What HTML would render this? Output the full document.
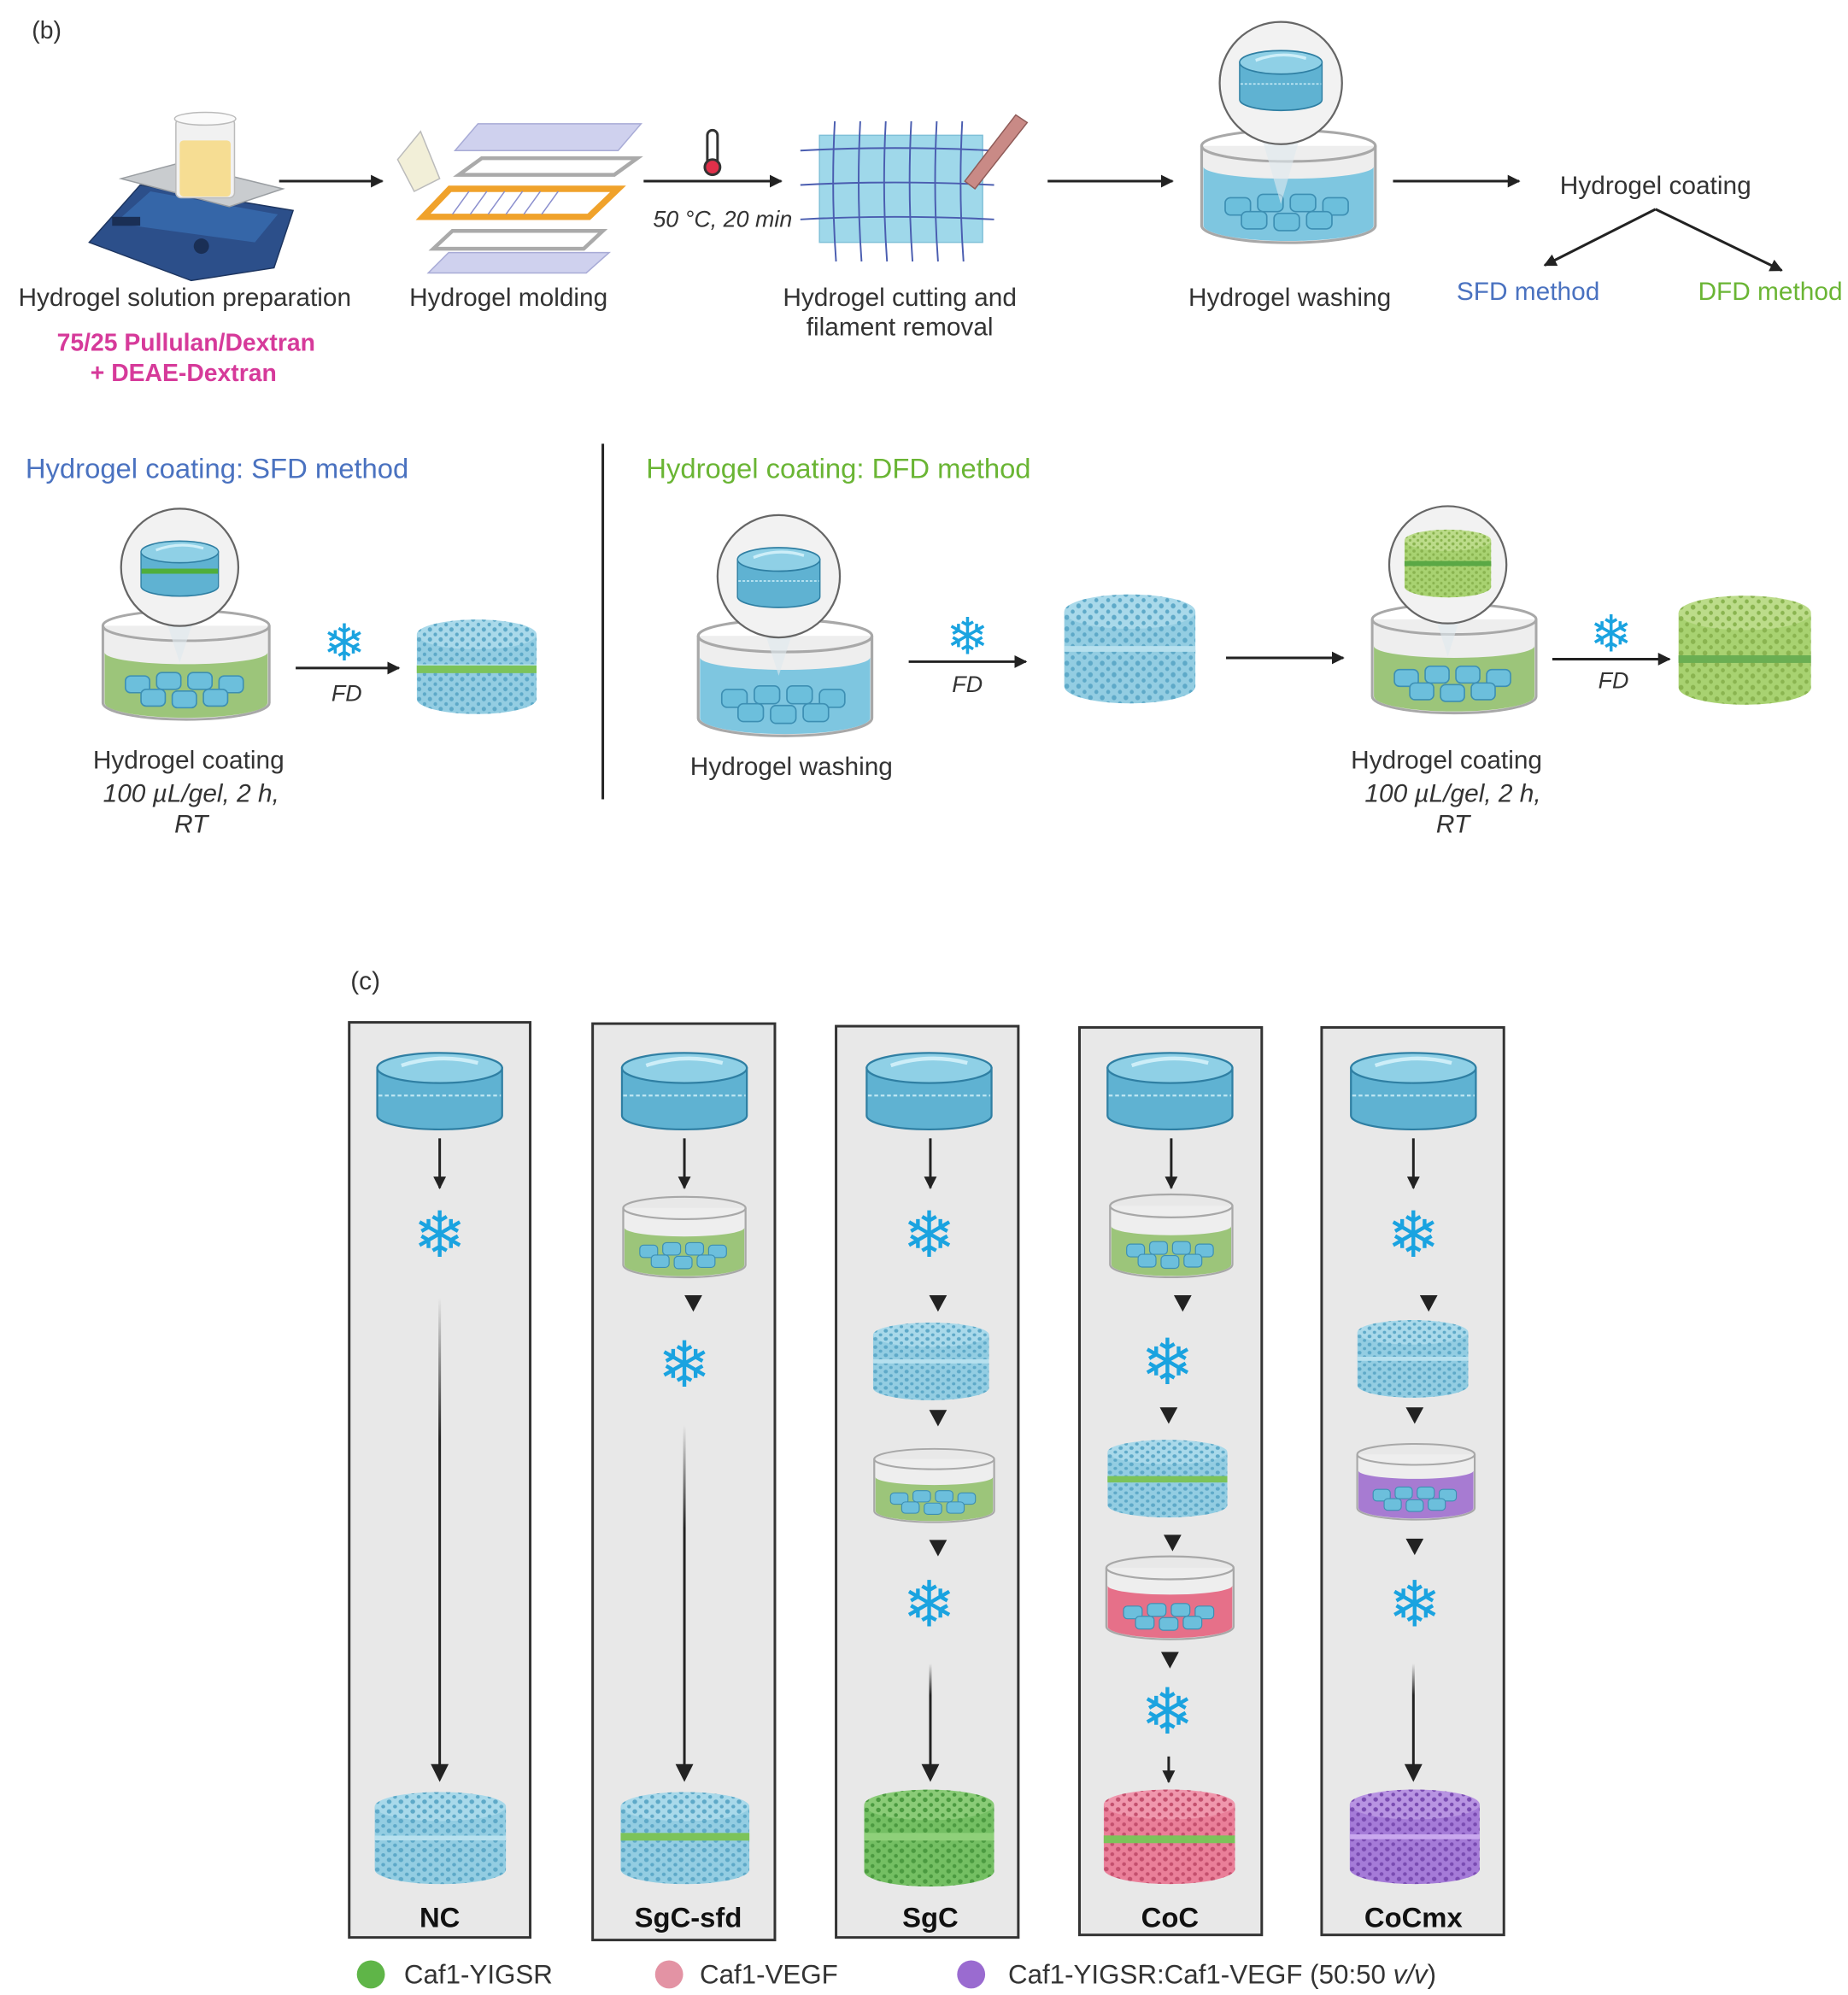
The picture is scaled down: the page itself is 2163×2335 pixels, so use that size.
<!DOCTYPE html>
<html><head><meta charset="utf-8"><style>
html,body{margin:0;padding:0;background:#fff;}
svg{display:block;}
text{font-family:"Liberation Sans","DejaVu Sans",sans-serif;}
.sf{font-family:"DejaVu Sans",sans-serif;fill:#1aa3e0;text-anchor:middle;}
</style></head><body>
<svg width="2163" height="2335" viewBox="0 0 1450 1565" xmlns="http://www.w3.org/2000/svg">
<defs>
<marker id="ah" markerWidth="10" markerHeight="10" refX="9" refY="5" orient="auto" markerUnits="userSpaceOnUse"><path d="M0,0 L10,5 L0,10 Z" fill="#222"/></marker>
<linearGradient id="fade" x1="0" y1="0" x2="0" y2="1"><stop offset="0" stop-color="#222" stop-opacity="0"/><stop offset="0.3" stop-color="#222"/><stop offset="1" stop-color="#222"/></linearGradient>
<pattern id="pB" width="9" height="8" patternUnits="userSpaceOnUse"><circle cx="2" cy="2" r="1.8" fill="#5ea9c8"/><circle cx="6.5" cy="6" r="1.5" fill="#5ea9c8"/></pattern>
<pattern id="pG" width="9" height="8" patternUnits="userSpaceOnUse"><circle cx="2" cy="2" r="1.8" fill="#4b9a40"/><circle cx="6.5" cy="6" r="1.5" fill="#4b9a40"/></pattern>
<pattern id="pL" width="9" height="8" patternUnits="userSpaceOnUse"><circle cx="2" cy="2" r="1.8" fill="#8ab450"/><circle cx="6.5" cy="6" r="1.5" fill="#8ab450"/></pattern>
<pattern id="pP" width="9" height="8" patternUnits="userSpaceOnUse"><circle cx="2" cy="2" r="1.8" fill="#c4506e"/><circle cx="6.5" cy="6" r="1.5" fill="#c4506e"/></pattern>
<pattern id="pV" width="9" height="8" patternUnits="userSpaceOnUse"><circle cx="2" cy="2" r="1.8" fill="#7a4cb2"/><circle cx="6.5" cy="6" r="1.5" fill="#7a4cb2"/></pattern>
<symbol id="gel" viewBox="0 0 100 65" preserveAspectRatio="none">
<path d="M1,14 L1,52 A49,11 0 0 0 99,52 L99,14 Z" fill="#5fb2d2" stroke="#2f7fa3" stroke-width="1.5"/>
<ellipse cx="50" cy="14" rx="49" ry="12" fill="#8fd0e6" stroke="#2f7fa3" stroke-width="1.5"/>
<path d="M20,12 Q50,2 80,10" stroke="#cdeef8" stroke-width="3" fill="none"/>
<line x1="2" y1="36" x2="98" y2="36" stroke="#bfe6f3" stroke-width="1.5" stroke-dasharray="3,2"/>
</symbol>
<symbol id="scB" viewBox="0 0 100 80" preserveAspectRatio="none"><path d="M0,14 L0,66 A50,12 0 0 0 100,66 L100,14 Z" fill="#93cde2"/><path d="M0,14 L0,66 A50,12 0 0 0 100,66 L100,14 Z" fill="url(#pB)"/><ellipse cx="50" cy="14" rx="50" ry="12" fill="#a9d9ea"/><ellipse cx="50" cy="14" rx="50" ry="12" fill="url(#pB)"/><rect x="0" y="38" width="100" height="4" fill="#b6e0ee"/></symbol>
<symbol id="scG" viewBox="0 0 100 80" preserveAspectRatio="none"><path d="M0,14 L0,66 A50,12 0 0 0 100,66 L100,14 Z" fill="#74bf63"/><path d="M0,14 L0,66 A50,12 0 0 0 100,66 L100,14 Z" fill="url(#pG)"/><ellipse cx="50" cy="14" rx="50" ry="12" fill="#8acb77"/><ellipse cx="50" cy="14" rx="50" ry="12" fill="url(#pG)"/></symbol>
<symbol id="scL" viewBox="0 0 100 80" preserveAspectRatio="none"><path d="M0,14 L0,66 A50,12 0 0 0 100,66 L100,14 Z" fill="#a8d271"/><path d="M0,14 L0,66 A50,12 0 0 0 100,66 L100,14 Z" fill="url(#pL)"/><ellipse cx="50" cy="14" rx="50" ry="12" fill="#bcdc8a"/><ellipse cx="50" cy="14" rx="50" ry="12" fill="url(#pL)"/></symbol>
<symbol id="scP" viewBox="0 0 100 80" preserveAspectRatio="none"><path d="M0,14 L0,66 A50,12 0 0 0 100,66 L100,14 Z" fill="#ea7f99"/><path d="M0,14 L0,66 A50,12 0 0 0 100,66 L100,14 Z" fill="url(#pP)"/><ellipse cx="50" cy="14" rx="50" ry="12" fill="#f097ad"/><ellipse cx="50" cy="14" rx="50" ry="12" fill="url(#pP)"/></symbol>
<symbol id="scV" viewBox="0 0 100 80" preserveAspectRatio="none"><path d="M0,14 L0,66 A50,12 0 0 0 100,66 L100,14 Z" fill="#a57bd8"/><path d="M0,14 L0,66 A50,12 0 0 0 100,66 L100,14 Z" fill="url(#pV)"/><ellipse cx="50" cy="14" rx="50" ry="12" fill="#b894e2"/><ellipse cx="50" cy="14" rx="50" ry="12" fill="url(#pV)"/><rect x="0" y="38" width="100" height="4" fill="#c9a8ee"/></symbol>
<g id="minigels">
<g fill="#6cbfdc" stroke="#3d8fb3" stroke-width="0.8">
<rect x="15" y="42" width="14" height="10" rx="3"/><rect x="33" y="40" width="14" height="10" rx="3"/><rect x="51" y="40" width="14" height="10" rx="3"/><rect x="69" y="42" width="14" height="10" rx="3"/>
<rect x="24" y="50" width="14" height="10" rx="3"/><rect x="42" y="51" width="14" height="10" rx="3"/><rect x="60" y="50" width="14" height="10" rx="3"/>
</g></g>
<symbol id="dishG" viewBox="0 0 100 70" preserveAspectRatio="none"><path d="M2,12 L2,58 A48,10 0 0 0 98,58 L98,12" fill="#eeeeee" stroke="#a8a8a8" stroke-width="1.5"/><path d="M3,28 L3,58 A47,9 0 0 0 97,58 L97,28 A47,7 0 0 1 3,28Z" fill="#9cc57a"/><use href="#minigels"/><ellipse cx="50" cy="12" rx="48" ry="9" fill="none" stroke="#a8a8a8" stroke-width="1.5"/></symbol>
<symbol id="dishB" viewBox="0 0 100 70" preserveAspectRatio="none"><path d="M2,12 L2,58 A48,10 0 0 0 98,58 L98,12" fill="#eeeeee" stroke="#a8a8a8" stroke-width="1.5"/><path d="M3,24 L3,58 A47,9 0 0 0 97,58 L97,24 A47,7 0 0 1 3,24Z" fill="#7ec6e0"/><use href="#minigels"/><ellipse cx="50" cy="12" rx="48" ry="9" fill="none" stroke="#a8a8a8" stroke-width="1.5"/></symbol>
<symbol id="dishP" viewBox="0 0 100 70" preserveAspectRatio="none"><path d="M2,12 L2,58 A48,10 0 0 0 98,58 L98,12" fill="#eeeeee" stroke="#a8a8a8" stroke-width="1.5"/><path d="M3,26 L3,58 A47,9 0 0 0 97,58 L97,26 A47,7 0 0 1 3,26Z" fill="#e67089"/><use href="#minigels"/><ellipse cx="50" cy="12" rx="48" ry="9" fill="none" stroke="#a8a8a8" stroke-width="1.5"/></symbol>
<symbol id="dishV" viewBox="0 0 100 70" preserveAspectRatio="none"><path d="M2,12 L2,58 A48,10 0 0 0 98,58 L98,12" fill="#eeeeee" stroke="#a8a8a8" stroke-width="1.5"/><path d="M3,26 L3,58 A47,9 0 0 0 97,58 L97,26 A47,7 0 0 1 3,26Z" fill="#a77bd2"/><use href="#minigels"/><ellipse cx="50" cy="12" rx="48" ry="9" fill="none" stroke="#a8a8a8" stroke-width="1.5"/></symbol>
<symbol id="tri" viewBox="0 0 14 14"><path d="M0,0 L14,0 L7,13Z" fill="#222"/></symbol>
</defs>

<!-- (b) top row -->
<text x="25" y="30" font-size="19" fill="#333">(b)</text>
<!-- hotplate -->
<g>
<path d="M70,190 L110,145 L230,165 L215,210 L150,220Z" fill="#2c4f8a" stroke="#1d3560"/>
<path d="M90,175 L118,150 L218,168 L200,190Z" fill="#3566a8"/>
<path d="M95,140 L140,128 L222,148 L180,162Z" fill="#c9cccf" stroke="#9a9ea2"/>
<rect x="138" y="93" width="46" height="62" rx="4" fill="#f1f1f1" stroke="#bbb"/>
<rect x="141" y="110" width="40" height="44" rx="3" fill="#f6dd93"/>
<ellipse cx="161" cy="93" rx="24" ry="5" fill="#fafafa" stroke="#bbb"/>
<rect x="88" y="170" width="22" height="7" fill="#1a2f55"/><circle cx="158" cy="193" r="6" fill="#1a2f55"/>
</g>
<line x1="219" y1="142" x2="300" y2="142" stroke="#222" stroke-width="2" marker-end="url(#ah)"/>
<!-- molding -->
<g>
<path d="M312,125 L330,103 L345,140 L325,150Z" fill="#f2efd8" stroke="#bbb"/>
<path d="M375,97 L503,97 L485,118 L357,118Z" fill="#cfd1ee" stroke="#a8abd6"/>
<path d="M378,124 L500,124 L482,137 L360,137Z" fill="none" stroke="#aaa" stroke-width="3"/>
<path d="M353,148 L485,148 L462,170 L332,170Z" fill="none" stroke="#f0a22b" stroke-width="5"/>
<g stroke="#8b8fce" stroke-width="1"><line x1="368" y1="150" x2="355" y2="168"/><line x1="382" y1="150" x2="369" y2="168"/><line x1="396" y1="150" x2="383" y2="168"/><line x1="410" y1="150" x2="397" y2="168"/><line x1="424" y1="150" x2="411" y2="168"/><line x1="438" y1="150" x2="425" y2="168"/></g>
<path d="M355,181 L473,181 L458,195 L340,195Z" fill="none" stroke="#aaa" stroke-width="3"/>
<path d="M352,198 L478,198 L460,214 L336,214Z" fill="#cfd1ee" stroke="#a8abd6"/>
</g>
<line x1="505" y1="142" x2="613" y2="142" stroke="#222" stroke-width="2" marker-end="url(#ah)"/>
<rect x="555" y="102" width="8" height="28" rx="4" fill="#fff" stroke="#333" stroke-width="2"/><circle cx="559" cy="131" r="6" fill="#e0304a" stroke="#333" stroke-width="2"/>
<text x="567" y="178" font-size="18" font-style="italic" text-anchor="middle" fill="#333">50 °C, 20 min</text>
<!-- cutting -->
<g>
<rect x="643" y="106" width="128" height="84" fill="#9fd8ea" stroke="#7fc0d8"/>
<g stroke="#4a5db0" stroke-width="1.3" fill="none">
<path d="M628,118 Q700,114 780,118"/><path d="M628,145 Q700,141 780,145"/><path d="M628,172 Q700,168 780,172"/>
<path d="M655,95 Q652,150 656,205"/><path d="M675,95 Q672,150 676,205"/><path d="M695,95 Q692,150 696,205"/><path d="M715,95 Q712,150 716,205"/><path d="M735,95 Q732,150 736,205"/><path d="M755,95 Q752,150 756,205"/>
</g>
<path d="M757,142 L797,90 L806,96 L765,148Z" fill="#c98a86" stroke="#8f5b58"/>
</g>
<line x1="822" y1="142" x2="920" y2="142" stroke="#222" stroke-width="2" marker-end="url(#ah)"/>
<!-- washing -->
<g>
<use href="#dishB" x="940" y="98" width="142" height="95"/>
<path d="M985,90 L1005,160 L1025,90Z" fill="#dfe9ef" opacity="0.6"/>
<circle cx="1005" cy="65" r="48" fill="#f2f2f2" stroke="#666" stroke-width="1.5"/>
<use href="#gel" x="972" y="38" width="66" height="50"/>
</g>
<line x1="1093" y1="142" x2="1192" y2="142" stroke="#222" stroke-width="2" marker-end="url(#ah)"/>
<text x="1299" y="152" font-size="20" text-anchor="middle" fill="#333">Hydrogel coating</text>
<line x1="1299" y1="164" x2="1212" y2="208" stroke="#222" stroke-width="2" marker-end="url(#ah)"/>
<line x1="1299" y1="164" x2="1398" y2="212" stroke="#222" stroke-width="2" marker-end="url(#ah)"/>
<text x="1199" y="235" font-size="20" text-anchor="middle" fill="#4a72c0">SFD method</text>
<text x="1389" y="235" font-size="20" text-anchor="middle" fill="#6ab534">DFD method</text>

<text x="145" y="240" font-size="20" text-anchor="middle" fill="#333">Hydrogel solution preparation</text>
<text x="146" y="275" font-size="19" font-weight="bold" text-anchor="middle" fill="#d63a9a">75/25 Pullulan/Dextran</text>
<text x="144" y="299" font-size="19" font-weight="bold" text-anchor="middle" fill="#d63a9a">+ DEAE-Dextran</text>
<text x="399" y="240" font-size="20" text-anchor="middle" fill="#333">Hydrogel molding</text>
<text x="706" y="240" font-size="20" text-anchor="middle" fill="#333">Hydrogel cutting and</text>
<text x="706" y="263" font-size="20" text-anchor="middle" fill="#333">filament removal</text>
<text x="1012" y="240" font-size="20" text-anchor="middle" fill="#333">Hydrogel washing</text>

<!-- middle -->
<text x="20" y="375" font-size="22" fill="#4a72c0">Hydrogel coating:  SFD method</text>
<line x1="473" y1="348" x2="473" y2="627" stroke="#222" stroke-width="2"/>
<text x="507" y="375" font-size="22" fill="#6ab534">Hydrogel coating:  DFD method</text>
<!-- SFD -->
<use href="#dishG" x="78" y="475" width="136" height="92"/>
<path d="M125,470 L141,520 L157,470Z" fill="#dfe9ef" opacity="0.6"/>
<circle cx="141" cy="445" r="46" fill="#f2f2f2" stroke="#666" stroke-width="1.5"/>
<use href="#gel" x="110" y="423" width="62" height="46"/>
<rect x="111" y="446" width="60" height="4" fill="#4fae3c"/>
<line x1="232" y1="524" x2="313" y2="524" stroke="#222" stroke-width="2" marker-end="url(#ah)"/>
<text class="sf" x="270" y="518" font-size="40">❄</text>
<text x="272" y="550" font-size="18" font-style="italic" text-anchor="middle" fill="#333">FD</text>
<use href="#scB" x="327" y="484" width="94" height="78"/>
<rect x="327" y="522" width="94" height="6" fill="#7cc35a"/>
<text x="148" y="603" font-size="20" text-anchor="middle" fill="#333">Hydrogel coating</text>
<text x="150" y="629" font-size="20" font-style="italic" text-anchor="middle" fill="#333">100 µL/gel, 2 h,</text>
<text x="150" y="653" font-size="20" font-style="italic" text-anchor="middle" fill="#333">RT</text>
<!-- DFD -->
<use href="#dishB" x="545" y="482" width="142" height="98"/>
<path d="M595,480 L611,530 L627,480Z" fill="#dfe9ef" opacity="0.6"/>
<circle cx="611" cy="452" r="48" fill="#f2f2f2" stroke="#666" stroke-width="1.5"/>
<use href="#gel" x="578" y="428" width="66" height="50"/>
<text x="621" y="608" font-size="20" text-anchor="middle" fill="#333">Hydrogel washing</text>
<line x1="713" y1="519" x2="805" y2="519" stroke="#222" stroke-width="2" marker-end="url(#ah)"/>
<text class="sf" x="759" y="513" font-size="40">❄</text>
<text x="759" y="543" font-size="18" font-style="italic" text-anchor="middle" fill="#333">FD</text>
<use href="#scB" x="835" y="464" width="103" height="90"/>
<line x1="962" y1="516" x2="1054" y2="516" stroke="#222" stroke-width="2" marker-end="url(#ah)"/>
<use href="#dishG" x="1074" y="470" width="134" height="92"/>
<path d="M1120,465 L1136,515 L1152,465Z" fill="#dfe9ef" opacity="0.6"/>
<circle cx="1136" cy="443" r="46" fill="#f2f2f2" stroke="#666" stroke-width="1.5"/>
<use href="#scL" x="1102" y="414" width="68" height="56"/>
<rect x="1102" y="440" width="68" height="4" fill="#5aa845"/>
<line x1="1218" y1="517" x2="1310" y2="517" stroke="#222" stroke-width="2" marker-end="url(#ah)"/>
<text class="sf" x="1264" y="511" font-size="40">❄</text>
<text x="1266" y="540" font-size="18" font-style="italic" text-anchor="middle" fill="#333">FD</text>
<use href="#scL" x="1317" y="465" width="104" height="90"/>
<rect x="1317" y="514" width="104" height="6" fill="#6aae52"/>
<text x="1135" y="603" font-size="20" text-anchor="middle" fill="#333">Hydrogel coating</text>
<text x="1140" y="629" font-size="20" font-style="italic" text-anchor="middle" fill="#333">100 µL/gel, 2 h,</text>
<text x="1140" y="653" font-size="20" font-style="italic" text-anchor="middle" fill="#333">RT</text>

<!-- (c) -->
<text x="275" y="776" font-size="20" fill="#333">(c)</text>
<g fill="#e8e8e8" stroke="#333" stroke-width="2">
<rect x="274" y="802" width="142" height="718"/>
<rect x="465" y="803" width="143" height="719"/>
<rect x="656" y="805" width="143" height="715"/>
<rect x="847" y="806" width="143" height="712"/>
<rect x="1037" y="806" width="143" height="712"/>
</g>
<!-- gels top -->
<use href="#gel" x="295" y="824" width="100" height="64"/>
<use href="#gel" x="487" y="824" width="100" height="64"/>
<use href="#gel" x="679" y="824" width="100" height="64"/>
<use href="#gel" x="868" y="824" width="100" height="64"/>
<use href="#gel" x="1059" y="824" width="100" height="64"/>
<g stroke="#222" stroke-width="2" marker-end="url(#ah)">
<line x1="345" y1="893" x2="345" y2="932"/><line x1="537" y1="893" x2="537" y2="932"/><line x1="730" y1="893" x2="730" y2="932"/><line x1="919" y1="893" x2="919" y2="932"/><line x1="1109" y1="893" x2="1109" y2="932"/>
</g>
<!-- NC -->
<text class="sf" x="345" y="986" font-size="50">❄</text>
<rect x="344" y="1018" width="2" height="370" fill="url(#fade)"/>
<path d="M338,1384 L352,1384 L345,1398Z" fill="#222"/>
<use href="#scB" x="294" y="1404" width="103" height="76"/>
<text x="345" y="1512" font-size="22" font-weight="bold" text-anchor="middle" fill="#111">NC</text>
<!-- SgC-sfd -->
<use href="#dishG" x="487" y="936" width="100" height="68"/>
<use href="#tri" x="537" y="1016" width="14" height="14"/>
<text class="sf" x="537" y="1088" font-size="50">❄</text>
<rect x="536" y="1118" width="2" height="270" fill="url(#fade)"/>
<path d="M530,1384 L544,1384 L537,1398Z" fill="#222"/>
<use href="#scB" x="487" y="1404" width="101" height="76"/>
<rect x="487" y="1438" width="101" height="6" fill="#7cc35a"/>
<text x="540" y="1512" font-size="22" font-weight="bold" text-anchor="middle" fill="#111">SgC-sfd</text>
<!-- SgC -->
<text class="sf" x="729" y="986" font-size="50">❄</text>
<use href="#tri" x="729" y="1016" width="14" height="14"/>
<use href="#scB" x="685" y="1036" width="91" height="64"/>
<use href="#tri" x="729" y="1106" width="14" height="14"/>
<use href="#dishG" x="684" y="1134" width="98" height="62"/>
<use href="#tri" x="729" y="1208" width="14" height="14"/>
<text class="sf" x="729" y="1276" font-size="50">❄</text>
<rect x="729" y="1305" width="2" height="83" fill="url(#fade)"/>
<path d="M723,1384 L737,1384 L730,1398Z" fill="#222"/>
<use href="#scG" x="678" y="1402" width="102" height="80"/>
<rect x="678" y="1438" width="102" height="6" fill="#8fd07a"/>
<text x="730" y="1512" font-size="22" font-weight="bold" text-anchor="middle" fill="#111">SgC</text>
<!-- CoC -->
<use href="#dishG" x="869" y="934" width="100" height="70"/>
<use href="#tri" x="921" y="1016" width="14" height="14"/>
<text class="sf" x="916" y="1086" font-size="50">❄</text>
<use href="#tri" x="910" y="1104" width="14" height="14"/>
<use href="#scB" x="869" y="1128" width="94" height="64"/>
<rect x="869" y="1158" width="94" height="5" fill="#7cc35a"/>
<use href="#tri" x="913" y="1204" width="14" height="14"/>
<use href="#dishP" x="866" y="1218" width="104" height="70"/>
<use href="#tri" x="911" y="1296" width="14" height="14"/>
<text class="sf" x="916" y="1360" font-size="50">❄</text>
<line x1="917" y1="1378" x2="917" y2="1398" stroke="#222" stroke-width="2" marker-end="url(#ah)"/>
<use href="#scP" x="866" y="1402" width="103" height="78"/>
<rect x="866" y="1440" width="103" height="6" fill="#7cc35a"/>
<text x="918" y="1512" font-size="22" font-weight="bold" text-anchor="middle" fill="#111">CoC</text>
<!-- CoCmx -->
<text class="sf" x="1109" y="986" font-size="50">❄</text>
<use href="#tri" x="1114" y="1016" width="14" height="14"/>
<use href="#scB" x="1065" y="1034" width="87" height="64"/>
<use href="#tri" x="1103" y="1104" width="14" height="14"/>
<use href="#dishV" x="1063" y="1130" width="96" height="64"/>
<use href="#tri" x="1103" y="1207" width="14" height="14"/>
<text class="sf" x="1110" y="1276" font-size="50">❄</text>
<rect x="1108" y="1305" width="2" height="83" fill="url(#fade)"/>
<path d="M1102,1384 L1116,1384 L1109,1398Z" fill="#222"/>
<use href="#scV" x="1059" y="1402" width="102" height="78"/>
<text x="1109" y="1512" font-size="22" font-weight="bold" text-anchor="middle" fill="#111">CoCmx</text>
<!-- legend -->
<circle cx="291" cy="1549" r="11" fill="#5fb548"/>
<text x="317" y="1556" font-size="21" fill="#333">Caf1-YIGSR</text>
<circle cx="525" cy="1549" r="11" fill="#e393a4"/>
<text x="549" y="1556" font-size="21" fill="#333">Caf1-VEGF</text>
<circle cx="762" cy="1549" r="11" fill="#9a6bd0"/>
<text x="791" y="1556" font-size="21" fill="#333">Caf1-YIGSR:Caf1-VEGF (50:50 <tspan font-style="italic">v/v</tspan>)</text>
</svg>
</body></html>
